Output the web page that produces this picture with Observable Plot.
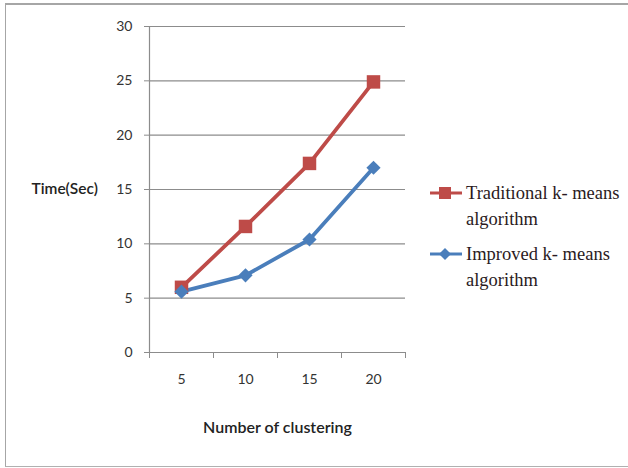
<!DOCTYPE html>
<html>
<head>
<meta charset="utf-8">
<script src="https://cdn.jsdelivr.net/npm/d3@7"></script>
<script src="https://cdn.jsdelivr.net/npm/@observablehq/plot@0.6"></script>
<style>
  html, body { margin: 0; padding: 0; background: #fff; }
  #wrap { position: relative; width: 628px; height: 468px; overflow: hidden; }
  #frame { position: absolute; left: 5px; top: 3px; width: 640px; height: 461px;
           border-left: 1px solid #a6a6a6; border-top: 2px solid #a6a6a6; border-bottom: 1px solid #b0b0b0; }
  #chart { position: absolute; left: 0; top: 0; }
  .legend { position: absolute; left: 430px; top: 180px; font-family: "Liberation Serif", "DejaVu Serif", serif;
            font-size: 18.5px; color: #2a1a22; line-height: 26px; white-space: nowrap; }
  .item { position: relative; padding-left: 36px; margin-bottom: 9px; }
  .item svg { position: absolute; left: 0; top: 2px; }
</style>
</head>
<body>
<div id="wrap">
  <div id="frame"></div>
  <div id="chart"></div>
  <div class="legend" id="legend"></div>
</div>
<script>
// Clustering sizes and run times (seconds) for both k-means variants
const clusters = [5, 10, 15, 20];
const traditional = [6.0, 11.6, 17.4, 24.9];
const improved = [5.6, 7.1, 10.4, 17.0];
const yTicks = [0, 5, 10, 15, 20, 25, 30];
const seriesNames = ["Traditional k- means algorithm", "Improved k- means algorithm"];
const seriesColors = ["#be4b48", "#4a7ebb"];

const rows = [
  ...clusters.map((c, i) => ({series: seriesNames[0], n: c, t: traditional[i]})),
  ...clusters.map((c, i) => ({series: seriesNames[1], n: c, t: improved[i]}))
];

// category boundaries sit halfway between cluster sizes
const step = clusters[1] - clusters[0];
const bounds = [...clusters.map(c => c - step / 2), clusters[clusters.length - 1] + step / 2];

const font = "Lato, 'Open Sans', sans-serif";

const plot = Plot.plot({
  width: 628,
  height: 468,
  marginLeft: 149,
  marginRight: 223,
  marginTop: 26,
  marginBottom: 116,
  style: {fontFamily: font, fontSize: "13px", color: "#333", background: "transparent"},
  x: {domain: [bounds[0], bounds[bounds.length - 1]]},
  y: {domain: [0, 30]},
  marks: [
    Plot.ruleY(yTicks.filter(d => d > 0), {stroke: "#8c8c8c", strokeWidth: 1.2}),
    Plot.ruleY([0], {stroke: "#8c8c8c", strokeWidth: 1.2}),
    Plot.ruleX([bounds[0]], {stroke: "#8c8c8c", strokeWidth: 1.2}),
    Plot.axisY({ticks: yTicks, tickSize: 5, tickPadding: 12, stroke: "#8c8c8c", label: null, fill: "#333", fontSize: 14}),
    Plot.axisX({ticks: bounds, tickSize: 6, tickFormat: () => "", stroke: "#8c8c8c", label: null}),
    Plot.axisX({ticks: clusters, tickSize: 0, tickPadding: 22, label: null, fill: "#333", fontSize: 14}),
    Plot.text(["Time(Sec)"], {frameAnchor: "left", dx: -118, fontSize: 15.5, fontWeight: 600, fill: "#222", textAnchor: "start"}),
    Plot.text(["Number of clustering"], {frameAnchor: "bottom", dy: 80, fontSize: 16, fontWeight: 600, fill: "#222"}),
    Plot.line(rows, {x: "n", y: "t", z: "series", stroke: "series", strokeWidth: 3.8}),
    Plot.dot(rows.filter(d => d.series === seriesNames[0]), {x: "n", y: "t", symbol: "square", r: 7.6, fill: seriesColors[0]}),
    Plot.dot(rows.filter(d => d.series === seriesNames[1]), {x: "n", y: "t", symbol: "diamond2", r: 6.4, fill: seriesColors[1]})
  ],
  color: {domain: seriesNames, range: seriesColors}
});
document.getElementById("chart").appendChild(plot);

// legend entries: a short line with the series marker, then the wrapped name
const legend = document.getElementById("legend");
const marker = [
  `<rect x="9" y="5" width="12" height="12" fill="${seriesColors[0]}"/>`,
  `<path d="M15 5 L21 11 L15 17 L9 11 Z" fill="${seriesColors[1]}"/>`
];
const lines = [["Traditional k- means", "algorithm"], ["Improved k- means", "algorithm"]];
lines.forEach((l, i) => {
  const div = document.createElement("div");
  div.className = "item";
  div.innerHTML = `<svg width="34" height="22"><line x1="0" x2="32" y1="11" y2="11" stroke="${seriesColors[i]}" stroke-width="3"/>${marker[i]}</svg>${l[0]}<br>${l[1]}`;
  legend.appendChild(div);
});
</script>
</body>
</html>
